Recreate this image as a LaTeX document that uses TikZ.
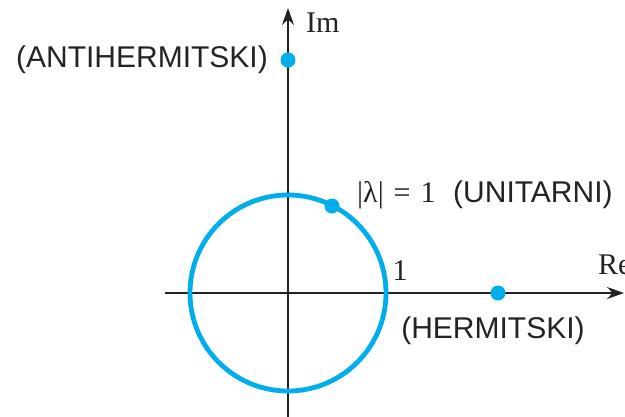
\documentclass[tikz,border=0pt]{standalone}
\usepackage{fontspec}
\setmainfont{Liberation Serif}
\newfontfamily\labelfont{Liberation Sans}
\usetikzlibrary{arrows.meta}
\definecolor{eigblue}{RGB}{0,174,236}
\definecolor{inkgray}{RGB}{35,35,35}
\begin{document}
\begin{tikzpicture}[x=1pt,y=-1pt,
  axis/.style={line width=1.5pt, draw=inkgray, -{Stealth[length=17pt,width=12pt]}},
  eigdot/.style={circle, fill=eigblue, inner sep=0pt, minimum size=15pt},
  sanslabel/.style={font=\labelfont\fontsize{30}{34}\selectfont, text=inkgray, inner sep=0pt},
  seriflabel/.style={font=\fontsize{30}{34}\selectfont, text=inkgray, inner sep=0pt}]
\useasboundingbox (0,0) rectangle (625,416);
\coordinate (O) at (288,293);
\coordinate (xs) at (165,293);
\coordinate (xe) at (624,293);
\coordinate (ys) at (288,420);
\coordinate (ye) at (288,8);
\draw[axis] (xs) -- (xe);
\draw[axis] (ys) -- (ye);
\draw[eigblue, line width=4.8pt] (O) circle (98pt);
\node[eigdot] (a) at (288,60) {};
\node[eigdot] (h) at (498,293) {};
\node[eigdot] (u) at (332,206) {};
\node[sanslabel, anchor=east] (at) at (268,60) {(ANTIHERMITSKI)};
\node[sanslabel] (ht) at (493,331) {(HERMITSKI)};
\node[seriflabel, anchor=west] (ul) at (357,195) {|λ|\,\,=\,\,1};
\node[sanslabel, anchor=west] (ut) at (453,195) {(UNITARNI)};
\node[seriflabel, anchor=west] (im) at (306,23) {Im};
\node[seriflabel, anchor=west] (re) at (598,265) {Re};
\node[seriflabel] (one) at (400,271) {1};
\end{tikzpicture}
\end{document}
